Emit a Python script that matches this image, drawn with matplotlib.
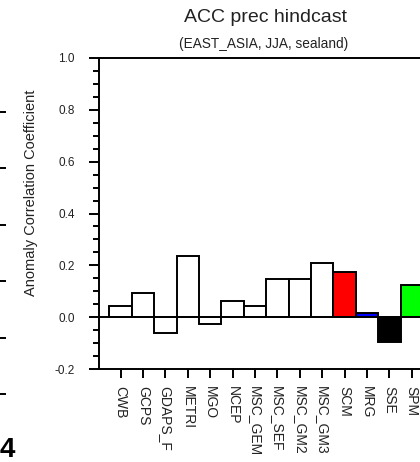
import matplotlib
matplotlib.use("Agg")
import matplotlib.pyplot as plt
import numpy as np

plt.rcParams['font.family'] = ['Liberation Sans', 'DejaVu Sans']

## data
models = ["CWB", "GCPS", "GDAPS_F", "METRI", "MGO", "NCEP", "MSC_GEM",
          "MSC_SEF", "MSC_GM2", "MSC_GM3", "SCM", "MRG", "SSE", "SPM"]
acc = [0.045, 0.093, -0.063, 0.237, -0.027, 0.064, 0.045,
       0.146, 0.146, 0.209, 0.173, 0.017, -0.095, 0.126]
bar_colors = ["white"] * 10 + ["#ff0000", "#0000ff", "#000000", "#00ff00"]

W, H = 420, 462
fig = plt.figure(figsize=(W / 100, H / 100), dpi=100)

# main panel (runs off the right edge like the cropped original)
ax = fig.add_axes([99 / W, (H - 369) / H, 332 / W, 311 / H])
x = np.arange(1, len(models) + 1)
ax.bar(x, acc, width=1.0, color=bar_colors, edgecolor="black", linewidth=1.4, zorder=2)
ax.axhline(0, color="black", linewidth=1.4, zorder=3)

ax.set_xlim(0.04, 14.86)
ax.set_ylim(-0.2, 1.0)
ax.set_yticks(np.arange(-0.2, 1.01, 0.2))
ax.set_yticks(np.arange(-0.2, 1.01, 0.05), minor=True)
ax.set_yticklabels(["%.1f" % v for v in np.arange(-0.2, 1.01, 0.2)], fontsize=8.5, color="#222222")
ax.set_xticks(x)
ax.set_xticklabels(models, rotation=270, fontsize=10, va="top", ha="center", color="#222222")

ax.tick_params(axis="y", which="major", direction="out", length=7.5, width=1.4, pad=10)
ax.tick_params(axis="y", which="minor", direction="out", length=4.3, width=1.4)
ax.tick_params(axis="x", which="major", direction="out", length=6.5, width=1.4, pad=6)
for s in ["left", "bottom", "top", "right"]:
    ax.spines[s].set_linewidth(1.4)

fig.text(31 / W, 1 - 192.5 / H, "Anomaly Correlation Coefficient",
         rotation=90, ha="center", va="center", fontsize=10.5, color="#222222")
fig.text(266 / W, 1 - 18 / H, "ACC prec hindcast", ha="center", va="center", fontsize=14, color="#222222")
fig.text(264 / W, 1 - 44 / H, "(EAST_ASIA, JJA, sealand)", ha="center", va="center", fontsize=9.8, color="#222222")

# leftover bits of the neighbouring panel
ax2 = fig.add_axes([-100 / W, (H - 422.25) / H, 100 / W, 338.5 / H])
ax2.set_ylim(0, 6)
ax2.set_xticks([])
ax2.yaxis.tick_right()
ax2.set_yticks(np.arange(0.5, 6, 1.0))
ax2.set_yticklabels([])
ax2.tick_params(axis="y", direction="out", length=4, width=1.4)
for s in ax2.spines.values():
    s.set_visible(False)
ax2.patch.set_visible(False)

fig.text(15 / W, 5 / H, "4", ha="right", va="baseline", fontsize=20, fontweight="bold")

plt.savefig("out.png", dpi=100)
